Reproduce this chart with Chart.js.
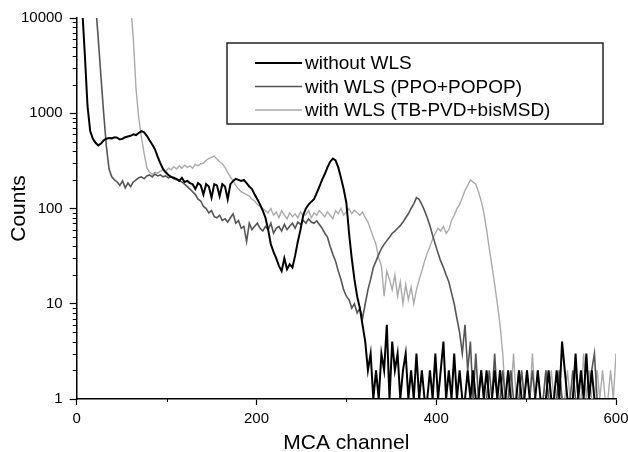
<!DOCTYPE html>
<html>
<head>
<meta charset="utf-8">
<script src="https://cdn.jsdelivr.net/npm/chart.js@4.4.1/dist/chart.umd.min.js"></script>
<style>
  html, body { margin: 0; padding: 0; background: #fff; }
  #spectrum { display: block; }
</style>
</head>
<body>
<canvas id="spectrum" width="628" height="452"></canvas>
<script>
// MCA spectra, sampled every 3 channels
const channels = [
  0, 3, 6, 9, 12, 15, 18, 21, 24, 27, 30, 33, 36, 39, 42, 45, 48, 51, 54, 57,
  60, 63, 66, 69, 72, 75, 78, 81, 84, 87, 90, 93, 96, 99, 102, 105, 108, 111, 114, 117,
  120, 123, 126, 129, 132, 135, 138, 141, 144, 147, 150, 153, 156, 159, 162, 165, 168, 171, 174, 177,
  180, 183, 186, 189, 192, 195, 198, 201, 204, 207, 210, 213, 216, 219, 222, 225, 228, 231, 234, 237,
  240, 243, 246, 249, 252, 255, 258, 261, 264, 267, 270, 273, 276, 279, 282, 285, 288, 291, 294, 297,
  300, 303, 306, 309, 312, 315, 318, 321, 324, 327, 330, 333, 336, 339, 342, 345, 348, 351, 354, 357,
  360, 363, 366, 369, 372, 375, 378, 381, 384, 387, 390, 393, 396, 399, 402, 405, 408, 411, 414, 417,
  420, 423, 426, 429, 432, 435, 438, 441, 444, 447, 450, 453, 456, 459, 462, 465, 468, 471, 474, 477,
  480, 483, 486, 489, 492, 495, 498, 501, 504, 507, 510, 513, 516, 519, 522, 525, 528, 531, 534, 537,
  540, 543, 546, 549, 552, 555, 558, 561, 564, 567, 570, 573, 576, 579, 582, 585, 588, 591, 594, 597,
  600
];

const withoutWls = [
  50000, 25000, 13000, 4200, 1200, 650, 540, 490, 460, 480, 520, 540, 550, 545, 560, 555, 530, 540, 560, 570,
  580, 600, 590, 620, 650, 630, 580, 520, 470, 420, 350, 300, 260, 240, 225, 215, 210, 205, 195, 210,
  190, 195, 185, 180, 160, 185, 175, 140, 180, 170, 130, 180, 175, 135, 180, 170, 125, 180, 195, 205,
  200, 195, 200, 185, 170, 160, 140, 125, 110, 95, 80, 60, 42, 35, 30, 25, 22, 30, 23, 26,
  24, 32, 45, 60, 85, 100, 110, 118, 125, 145, 170, 200, 230, 270, 310, 335, 320, 270, 210, 160,
  115, 55, 30, 18, 12, 9, 6, 4, 2, 3, 1, 2, 1, 3, 2, 6, 1, 4, 2, 3,
  1, 2, 3, 1, 2, 1, 3, 1, 2, 1, 1, 2, 1, 3, 1, 2, 4, 1, 2, 1,
  3, 1, 2, 1, 1, 2, 1, 2, 1, 1, 2, 1, 2, 1, 1, 2, 1, 2, 1, 1,
  2, 1, 1, 1, 2, 1, 1, 2, 1, 1, 1, 2, 1, 1, 1, 2, 1, 1, 2, 1,
  4, 2, 1, 1, 1, 3, 1, 2, 1, 3, 1, 2, 1, 1, 1, 1, 1, 1, 1, 1,
  1
];

const withPpo = [
  50000, 50000, 50000, 50000, 50000, 40000, 25000, 14000, 6000, 2400, 1000, 450, 260, 215, 200, 190, 175, 195, 165, 185,
  170, 190, 200, 210, 215, 205, 220, 225, 215, 230, 220, 225, 215, 220, 210, 215, 205, 200, 195, 190,
  180, 170, 160, 150, 140, 125, 120, 105, 100, 90, 95, 82, 80, 85, 75, 78, 72, 80, 88, 70,
  75, 62, 65, 45, 70, 60, 65, 70, 62, 58, 65, 60, 70, 55, 62, 65, 58, 68, 60, 65,
  70, 62, 72, 68, 75, 70, 78, 72, 70, 74, 68, 62, 55, 50, 40, 33, 28, 22, 18, 14,
  12, 11, 9, 10, 8, 9, 7, 10, 14, 18, 24, 28, 33, 38, 42, 46, 50, 55, 58, 62,
  66, 72, 80, 88, 100, 112, 130, 125, 110, 95, 80, 66, 52, 42, 34, 28, 24, 20, 17, 13,
  10, 7, 5, 3, 6, 2, 4, 1, 3, 1, 2, 1, 1, 2, 1, 3, 1, 1, 2, 1,
  1, 2, 1, 1, 1, 2, 1, 1, 1, 2, 1, 1, 1, 1, 2, 1, 1, 1, 1, 2,
  1, 1, 1, 1, 2, 1, 1, 1, 1, 1, 1, 2, 3, 1, 1, 1, 1, 1, 1, 1,
  1
];

const withTbPvd = [
  50000, 50000, 50000, 50000, 50000, 50000, 50000, 50000, 50000, 50000, 50000, 50000, 50000, 50000, 50000, 50000, 50000, 50000, 50000, 30000,
  14000, 6000, 1800, 900, 560, 380, 270, 240, 230, 240, 235, 245, 255, 240, 265, 255, 275, 260, 280, 265,
  285, 270, 280, 265, 290, 280, 295, 300, 320, 335, 345, 355, 330, 310, 295, 270, 240, 215, 195, 175,
  160, 150, 145, 140, 135, 125, 120, 110, 105, 100, 95, 90, 100, 85, 92, 80, 95, 85, 78, 90,
  82, 88, 80, 92, 84, 86, 95, 80, 90, 85, 95, 88, 82, 92, 85, 78, 95, 88, 100, 85,
  92, 100, 88, 96, 90, 85, 92, 80, 72, 60, 50, 42, 30, 25, 12, 22, 18, 14, 20, 12,
  17, 10, 16, 11, 15, 10, 14, 18, 22, 28, 34, 40, 48, 55, 62, 58, 65, 55, 60, 75,
  85, 100, 110, 130, 155, 175, 200, 190, 180, 150, 120, 90, 60, 38, 25, 16, 10, 6, 3, 1,
  2, 1, 3, 1, 2, 1, 1, 2, 1, 3, 1, 2, 1, 1, 2, 1, 2, 1, 1, 2,
  1, 1, 2, 1, 1, 2, 1, 1, 3, 1, 2, 1, 1, 2, 1, 2, 1, 1, 2, 1,
  3
];

const yMajor = [1, 10, 100, 1000, 10000];
const xMinor = [100, 300, 500];

const FONT = '"Liberation Sans", Arial, sans-serif';

function points(values) {
  return channels.map((c, i) => ({ x: c, y: values[i] }));
}

// short minor ticks on both axes, plus the rotated y title
const axisExtras = {
  id: 'axisExtras',
  afterDraw(chart) {
    const { ctx, chartArea, scales } = chart;
    ctx.save();
    ctx.strokeStyle = '#000';
    ctx.lineWidth = 1;
    ctx.beginPath();
    for (let d = 1; d < 10000; d *= 10) {
      for (let m = 2; m <= 9; m++) {
        const y = Math.round(scales.y.getPixelForValue(m * d)) + 0.5;
        ctx.moveTo(chartArea.left - 4, y);
        ctx.lineTo(chartArea.left, y);
      }
    }
    xMinor.forEach(v => {
      const x = Math.round(scales.x.getPixelForValue(v)) + 0.5;
      ctx.moveTo(x, chartArea.bottom);
      ctx.lineTo(x, chartArea.bottom + 3);
    });
    ctx.stroke();

    ctx.translate(19, (chartArea.top + chartArea.bottom) / 2);
    ctx.rotate(-Math.PI / 2);
    ctx.fillStyle = '#000';
    ctx.font = '21px ' + FONT;
    ctx.textAlign = 'center';
    ctx.textBaseline = 'middle';
    ctx.fillText('Counts', 0, 0);
    ctx.restore();
  }
};

// boxed legend in the upper right
const boxLegend = {
  id: 'boxLegend',
  afterDraw(chart) {
    const ctx = chart.ctx;
    const box = { x: 227, y: 43, w: 376, h: 81 };
    ctx.save();
    ctx.fillStyle = '#fff';
    ctx.fillRect(box.x, box.y, box.w, box.h);
    ctx.strokeStyle = '#222';
    ctx.lineWidth = 1.5;
    ctx.strokeRect(box.x, box.y, box.w, box.h);
    ctx.font = '19px ' + FONT;
    ctx.textBaseline = 'middle';
    chart.data.datasets.forEach((ds, i) => {
      const y = 63 + i * 23.5;
      ctx.strokeStyle = ds.borderColor;
      ctx.lineWidth = ds.borderWidth;
      ctx.beginPath();
      ctx.moveTo(255, y);
      ctx.lineTo(302, y);
      ctx.stroke();
      ctx.fillStyle = '#000';
      ctx.fillText(ds.label, 305, y + 1);
    });
    ctx.restore();
  }
};

new Chart(document.getElementById('spectrum').getContext('2d'), {
  type: 'line',
  data: {
    datasets: [
      { label: 'without WLS', data: points(withoutWls), borderColor: '#000', borderWidth: 2 },
      { label: 'with WLS (PPO+POPOP)', data: points(withPpo), borderColor: '#555', borderWidth: 1.6 },
      { label: 'with WLS (TB-PVD+bisMSD)', data: points(withTbPvd), borderColor: '#aaa', borderWidth: 1.4 }
    ]
  },
  options: {
    responsive: false,
    animation: false,
    devicePixelRatio: 1,
    layout: { padding: { left: 14, top: 18, right: 12, bottom: -2 } },
    elements: { point: { radius: 0 }, line: { tension: 0 } },
    plugins: { legend: { display: false }, tooltip: { enabled: false } },
    scales: {
      x: {
        type: 'linear',
        min: 0,
        max: 600,
        afterFit: scale => { scale.paddingLeft = 0; scale.paddingRight = 0; },
        ticks: { stepSize: 200, color: '#000', font: { family: FONT, size: 15 }, padding: 5 },
        grid: { drawOnChartArea: false, tickLength: 6, color: '#000', tickWidth: 1.2 },
        border: { color: '#000', width: 1.5 },
        title: { display: true, text: 'MCA channel', color: '#000', font: { family: FONT, size: 21, lineHeight: 1 }, padding: { top: 0, bottom: 0 } }
      },
      y: {
        type: 'logarithmic',
        min: 1,
        max: 10000,
        afterBuildTicks: scale => { scale.ticks = yMajor.map(v => ({ value: v })); },
        ticks: { color: '#000', font: { family: FONT, size: 15 }, padding: 7, callback: v => String(v) },
        grid: { drawOnChartArea: false, tickLength: 7, color: '#000', tickWidth: 1.2 },
        border: { color: '#000', width: 1.5 }
      }
    }
  },
  plugins: [axisExtras, boxLegend]
});
</script>
</body>
</html>
